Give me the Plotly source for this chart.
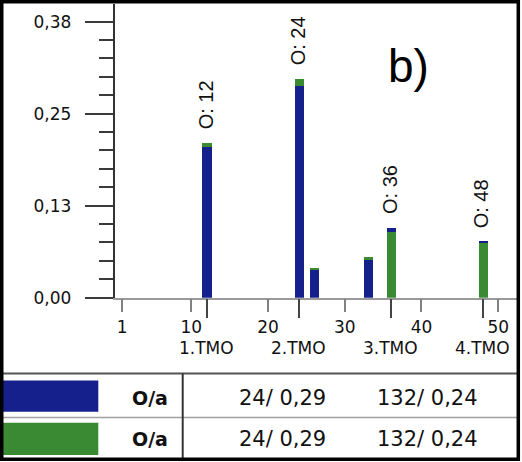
import plotly.graph_objects as go

# ---------------- data ----------------
positions = [12, 24, 26, 33, 36, 48]
blue_vals = [0.2043, 0.2876, 0.0386, 0.0516, 0.0062, 0.0010]
green_vals = [0.0055, 0.0093, 0.0022, 0.0033, 0.0889, 0.0747]

x_ticks = [1, 10, 20, 30, 40, 50]
y_tickvals = [0.0, 0.125, 0.25, 0.375]
y_ticktext = ["0,00", "0,13", "0,25", "0,38"]

tmo_pos = [12, 24, 36, 48]
tmo_labels = ["1.TMO", "2.TMO", "3.TMO", "4.TMO"]
peak_labels = ["O: 12", "O: 24", "O: 36", "O: 48"]

table_names = ["O/a", "O/a"]
table_col1 = ["24/ 0,29", "24/ 0,29"]
table_col2 = ["132/ 0,24", "132/ 0,24"]

BLUE = "#16208C"
GREEN = "#3A8A34"
W, H = 522, 462


def px(x):
    return x / W


def py(y):
    return 1 - y / H


# larger part at the bottom of each stacked bar
blue_base = [0 if b >= g else g for b, g in zip(blue_vals, green_vals)]
green_base = [0 if g > b else b for b, g in zip(blue_vals, green_vals)]
totals = {p: b + g for p, b, g in zip(positions, blue_vals, green_vals)}

fig = go.Figure()
fig.add_trace(go.Bar(x=positions, y=blue_vals, base=blue_base, width=1.2,
                     marker=dict(color=BLUE, line=dict(width=0)), name="O/a"))
fig.add_trace(go.Bar(x=positions, y=green_vals, base=green_base, width=1.2,
                     marker=dict(color=GREEN, line=dict(width=0)), name="O/a"))
# invisible helper trace for the secondary (TMO) tick axis
fig.add_trace(go.Scatter(x=tmo_pos, y=[0] * len(tmo_pos), xaxis="x2", yaxis="y",
                         mode="markers", marker=dict(opacity=0), hoverinfo="skip",
                         showlegend=False))

XR = [0, 52.45]
TICKFONT = dict(family="DejaVu Sans", size=17, color="#111")

fig.update_layout(
    template="none",
    width=W, height=H, margin=dict(l=0, r=0, t=0, b=0, pad=0),
    paper_bgcolor="white", plot_bgcolor="white",
    showlegend=False, barmode="overlay", bargap=0,
    xaxis=dict(domain=[px(114.5), px(517)], range=XR, tickvals=x_ticks,
               ticks="outside", ticklen=13, tickwidth=1.5, tickcolor="#808080",
               showline=True, linecolor="#9a9a9a", linewidth=1.5, automargin=False,
               showgrid=False, zeroline=False, tickfont=TICKFONT, fixedrange=True),
    xaxis2=dict(overlaying="x", anchor="y", side="bottom", range=XR,
                tickvals=tmo_pos, ticks="outside", ticklen=19, tickwidth=1.5,
                tickcolor="#444", showticklabels=False, showline=False,
                automargin=False, showgrid=False, zeroline=False),
    yaxis=dict(domain=[py(297.7), py(4)], range=[0, 0.399],
               tickvals=y_tickvals, ticktext=y_ticktext,
               ticks="outside", ticklen=28, tickwidth=1.5, tickcolor="#3a3a3a",
               ticklabelstandoff=10, automargin=False,
               minor=dict(ticks="outside", ticklen=14, tickwidth=1.5,
                          tickcolor="#3a3a3a", tick0=0, dtick=0.025),
               showline=True, linecolor="#333", linewidth=1.5,
               showgrid=False, zeroline=False, tickfont=TICKFONT),
)

annotations = []
for p, lab in zip(tmo_pos, peak_labels):
    annotations.append(dict(x=p, y=totals[p], xref="x", yref="y", text=lab,
                            textangle=-90, showarrow=False, yanchor="bottom",
                            xanchor="center", yshift=12, xshift=-1,
                            font=dict(family="Liberation Sans", size=20, color="#111")))
for p, lab in zip(tmo_pos, tmo_labels):
    annotations.append(dict(x=p, y=py(348), xref="x", yref="paper", text=lab,
                            showarrow=False, yanchor="middle", xanchor="center",
                            font=TICKFONT))
annotations.append(dict(x=px(408), y=py(66), xref="paper", yref="paper", text="b)",
                        showarrow=False, xanchor="center", yanchor="middle",
                        font=dict(family="Liberation Sans", size=46, color="#000")))

row_y = [397.5, 439]
for i in range(len(table_names)):
    annotations.append(dict(x=px(170), y=py(row_y[i]), xref="paper", yref="paper",
                            text="<b>" + table_names[i] + "</b>", showarrow=False,
                            xanchor="right", yanchor="middle",
                            font=dict(family="DejaVu Sans", size=19, color="#111")))
    annotations.append(dict(x=px(282), y=py(row_y[i]), xref="paper", yref="paper",
                            text=table_col1[i], showarrow=False,
                            xanchor="center", yanchor="middle",
                            font=dict(family="DejaVu Sans", size=21, color="#111")))
    annotations.append(dict(x=px(427.5), y=py(row_y[i]), xref="paper", yref="paper",
                            text=table_col2[i], showarrow=False,
                            xanchor="center", yanchor="middle",
                            font=dict(family="DejaVu Sans", size=21, color="#111")))
fig.update_layout(annotations=annotations)

shapes = [
    # table lines
    dict(type="line", xref="paper", yref="paper", x0=0, x1=px(520),
         y0=py(373.5), y1=py(373.5), line=dict(color="#555", width=2)),
    dict(type="line", xref="paper", yref="paper", x0=0, x1=px(520),
         y0=py(417.5), y1=py(417.5), line=dict(color="#a0a0a0", width=1.5)),
    dict(type="line", xref="paper", yref="paper", x0=px(182.7), x1=px(182.7),
         y0=py(373.5), y1=py(459), line=dict(color="#333", width=2)),
    # swatches
    dict(type="rect", xref="paper", yref="paper", x0=0, x1=px(98.3),
         y0=py(411.7), y1=py(380.5), fillcolor=BLUE, line=dict(width=0)),
    dict(type="rect", xref="paper", yref="paper", x0=0, x1=px(98.3),
         y0=py(455), y1=py(422.7), fillcolor=GREEN, line=dict(width=0)),
    # outer frame
    dict(type="rect", xref="paper", yref="paper", x0=px(1.75), x1=px(518.3),
         y0=py(459.2), y1=py(1.75), line=dict(color="#000", width=3.5)),
]
fig.update_layout(shapes=shapes)

fig.write_html("out.html")
